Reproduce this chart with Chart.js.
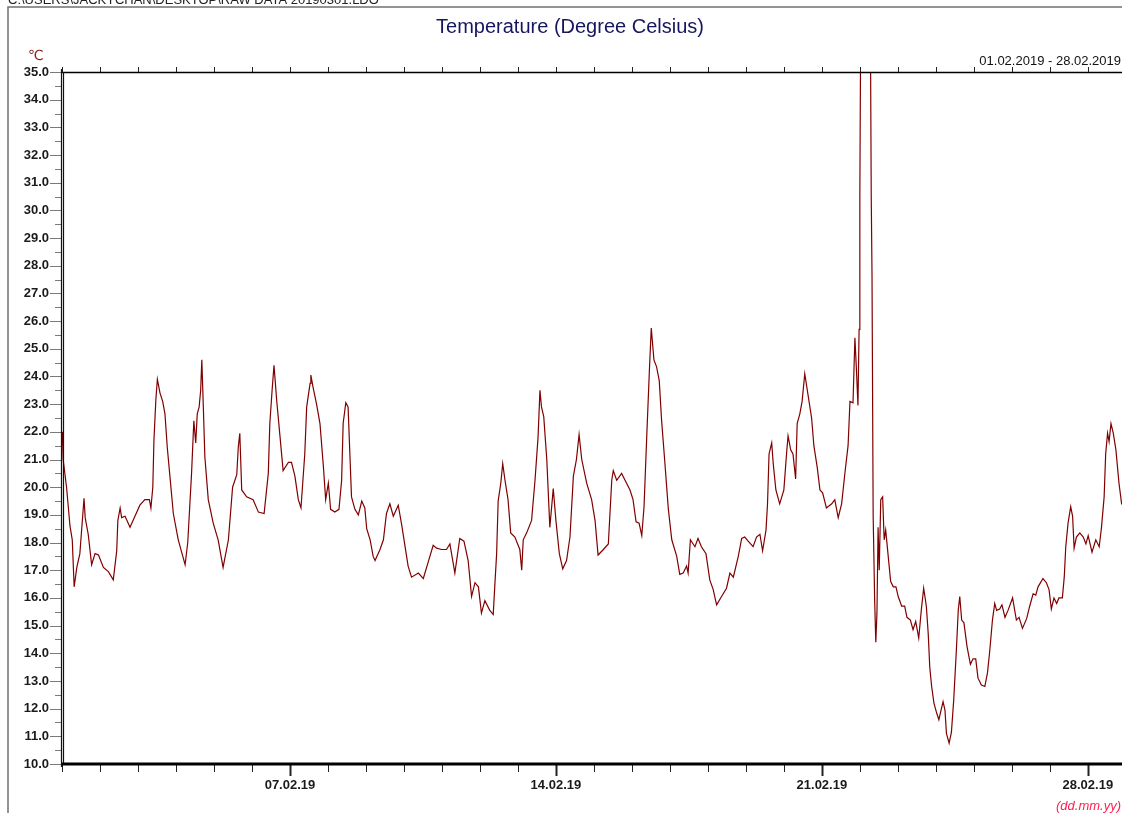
<!DOCTYPE html>
<html>
<head>
<meta charset="utf-8">
<title>Temperature (Degree Celsius)</title>
<script src="https://cdn.jsdelivr.net/npm/chart.js@4.4.1/dist/chart.umd.min.js"></script>
<style>
  html, body { margin: 0; padding: 0; background: #fff; }
  #wrap { position: relative; width: 1122px; height: 813px; overflow: hidden; }
</style>
</head>
<body>
<div id="wrap"><canvas id="tempChart" width="1122" height="813"></canvas></div>
<script>
// days since 01.02.2019 00:00
const days = [
  0.00, 0.02, 0.03, 0.12, 0.21, 0.27, 0.32, 0.39, 0.47, 0.53, 0.58, 0.61, 0.69, 0.78, 0.87, 0.96,
  1.09, 1.22, 1.35, 1.44, 1.47, 1.53, 1.57, 1.66, 1.79, 1.92, 2.05, 2.18, 2.30, 2.34, 2.39, 2.42,
  2.47, 2.51, 2.58, 2.65, 2.71, 2.77, 2.84, 2.93, 3.06, 3.18, 3.24, 3.31, 3.41, 3.47, 3.52, 3.56,
  3.61, 3.65, 3.68, 3.72, 3.76, 3.85, 3.98, 4.11, 4.24, 4.38, 4.49, 4.60, 4.64, 4.68, 4.73, 4.86,
  5.03, 5.17, 5.32, 5.43, 5.47, 5.53, 5.58, 5.65, 5.74, 5.82, 5.96, 6.04, 6.13, 6.22, 6.29, 6.39,
  6.44, 6.53, 6.55, 6.61, 6.70, 6.79, 6.88, 6.94, 7.01, 7.07, 7.18, 7.29, 7.36, 7.40, 7.47, 7.53,
  7.62, 7.71, 7.80, 7.89, 7.97, 8.02, 8.11, 8.19, 8.24, 8.37, 8.46, 8.54, 8.63, 8.72, 8.85, 8.94,
  9.03, 9.11, 9.20, 9.38, 9.51, 9.64, 9.77, 9.86, 9.99, 10.12, 10.21, 10.34, 10.47, 10.58, 10.69, 10.78,
  10.87, 10.96, 11.04, 11.13, 11.26, 11.35, 11.39, 11.44, 11.48, 11.55, 11.60, 11.66, 11.74, 11.81, 11.92, 12.05,
  12.10, 12.14, 12.23, 12.36, 12.45, 12.53, 12.58, 12.62, 12.68, 12.76, 12.84, 12.93, 13.00, 13.09, 13.18, 13.28,
  13.37, 13.46, 13.54, 13.61, 13.68, 13.81, 13.94, 14.03, 14.11, 14.25, 14.38, 14.47, 14.51, 14.60, 14.73, 14.82,
  14.95, 15.03, 15.11, 15.19, 15.26, 15.32, 15.39, 15.46, 15.51, 15.58, 15.65, 15.72, 15.78, 15.87, 15.96, 16.05,
  16.18, 16.26, 16.35, 16.44, 16.48, 16.54, 16.66, 16.74, 16.83, 16.95, 17.05, 17.14, 17.23, 17.36, 17.49, 17.58,
  17.67, 17.80, 17.89, 17.97, 18.06, 18.19, 18.28, 18.37, 18.44, 18.53, 18.57, 18.61, 18.68, 18.72, 18.79, 18.89,
  19.00, 19.07, 19.11, 19.18, 19.24, 19.31, 19.35, 19.42, 19.48, 19.55, 19.64, 19.73, 19.79, 19.88, 19.95, 20.02,
  20.12, 20.26, 20.34, 20.43, 20.52, 20.61, 20.69, 20.74, 20.82, 20.87, 20.91, 20.95, 20.98, 21.00, 21.02, 21.08,
  21.18, 21.28, 21.30, 21.32, 21.35, 21.39, 21.42, 21.45, 21.48, 21.51, 21.55, 21.60, 21.64, 21.68, 21.74, 21.81,
  21.88, 21.95, 22.01, 22.10, 22.18, 22.24, 22.33, 22.40, 22.47, 22.55, 22.62, 22.68, 22.75, 22.80, 22.84, 22.89,
  22.95, 23.02, 23.08, 23.13, 23.19, 23.24, 23.28, 23.35, 23.41, 23.47, 23.54, 23.59, 23.63, 23.68, 23.74, 23.82,
  23.91, 23.98, 24.05, 24.11, 24.20, 24.29, 24.36, 24.42, 24.49, 24.55, 24.60, 24.68, 24.74, 24.82, 24.90, 25.02,
  25.12, 25.19, 25.28, 25.39, 25.47, 25.56, 25.63, 25.69, 25.82, 25.91, 25.98, 26.04, 26.11, 26.18, 26.24, 26.33,
  26.38, 26.42, 26.48, 26.55, 26.60, 26.64, 26.70, 26.79, 26.88, 26.95, 27.01, 27.11, 27.21, 27.30, 27.36, 27.43,
  27.47, 27.52, 27.56, 27.61, 27.67, 27.74, 27.82, 27.89, 28.00
];
const temps = [
  22.0, 21.5, 21.0, 20.0, 18.6, 18.1, 16.4, 17.1, 17.6, 18.7, 19.6, 18.9, 18.3, 17.2, 17.6, 17.55,
  17.1, 16.95, 16.65, 17.7, 18.8, 19.25, 18.9, 18.95, 18.55, 18.95, 19.35, 19.55, 19.55, 19.25, 20.0, 21.7,
  23.15, 23.9, 23.4, 23.1, 22.65, 21.45, 20.4, 19.05, 18.1, 17.5, 17.2, 18.0, 20.5, 22.4, 21.6, 22.65,
  22.9, 23.5, 24.6, 22.9, 21.1, 19.55, 18.7, 18.1, 17.1, 18.1, 20.0, 20.45, 21.45, 21.95, 19.9, 19.65,
  19.55, 19.1, 19.05, 20.5, 22.3, 23.5, 24.4, 23.15, 21.8, 20.6, 20.9, 20.9, 20.4, 19.55, 19.25, 21.2,
  22.9, 23.75, 24.05, 23.6, 23.0, 22.3, 20.75, 19.55, 20.15, 19.2, 19.1, 19.2, 20.25, 22.3, 23.05, 22.9,
  19.65, 19.2, 19.0, 19.5, 19.25, 18.5, 18.1, 17.5, 17.35, 17.75, 18.1, 19.05, 19.4, 18.95, 19.35, 18.65,
  17.85, 17.15, 16.75, 16.9, 16.7, 17.3, 17.9, 17.8, 17.75, 17.75, 17.95, 16.9, 18.15, 18.05, 17.35, 16.05,
  16.55, 16.4, 15.45, 15.9, 15.55, 15.4, 16.4, 17.6, 19.5, 20.15, 20.85, 20.25, 19.55, 18.35, 18.2, 17.75,
  17.0, 18.1, 18.35, 18.8, 20.25, 21.8, 23.5, 22.9, 22.55, 21.0, 18.55, 19.95, 18.8, 17.6, 17.05, 17.35,
  18.2, 20.4, 21.0, 21.9, 21.0, 20.15, 19.55, 18.8, 17.55, 17.75, 17.95, 20.25, 20.6, 20.25, 20.5, 20.25,
  19.9, 19.55, 18.75, 18.7, 18.25, 19.3, 21.8, 24.2, 25.75, 24.6, 24.35, 23.85, 22.45, 20.85, 19.2, 18.1,
  17.5, 16.85, 16.9, 17.15, 16.9, 18.1, 17.85, 18.15, 17.85, 17.6, 16.65, 16.3, 15.75, 16.05, 16.35, 16.9,
  16.75, 17.5, 18.15, 18.2, 18.05, 17.85, 18.2, 18.3, 17.7, 18.45, 19.4, 21.2, 21.6, 20.85, 19.9, 19.4,
  19.9, 21.2, 21.85, 21.35, 21.2, 20.3, 22.3, 22.65, 23.1, 24.1, 23.3, 22.5, 21.5, 20.7, 19.9, 19.8,
  19.25, 19.4, 19.55, 18.9, 19.4, 20.55, 21.5, 23.1, 23.05, 25.4, 24.25, 22.95, 25.7, 30.6, 36.0, 40.0,
  40.0, 36.0, 30.5, 27.7, 19.0, 15.9, 14.4, 15.45, 18.55, 17.0, 19.55, 19.65, 18.1, 18.45, 17.6, 16.6,
  16.4, 16.4, 16.05, 15.7, 15.7, 15.3, 15.2, 14.85, 15.15, 14.55, 15.6, 16.35, 15.7, 14.7, 13.5, 12.8,
  12.2, 11.85, 11.6, 11.9, 12.25, 11.95, 11.1, 10.75, 11.15, 12.3, 14.1, 15.55, 16.05, 15.2, 15.1, 14.25,
  13.6, 13.8, 13.8, 13.1, 12.85, 12.8, 13.3, 14.1, 15.2, 15.8, 15.55, 15.6, 15.75, 15.3, 15.55, 16.0,
  15.2, 15.3, 14.9, 15.25, 15.7, 16.15, 16.1, 16.4, 16.7, 16.55, 16.3, 15.6, 16.0, 15.8, 16.0, 16.0,
  16.75, 17.85, 18.7, 19.3, 18.95, 17.8, 18.2, 18.35, 18.2, 17.95, 18.25, 17.65, 18.1, 17.85, 18.55, 19.65,
  21.2, 21.95, 21.65, 22.3, 21.95, 21.35, 20.15, 19.4, 19.3
];
const labelDays = [6, 13, 20, 27];
const labelTexts = ['07.02.19', '14.02.19', '21.02.19', '28.02.19'];

const filePath = 'C:\\USERS\\JACKYCHAN\\DESKTOP\\RAW DATA 20190301.LDO';
const chartTitle = 'Temperature (Degree Celsius)';
const periodText = '01.02.2019 - 28.02.2019';
const unitText = '\u2103';
const dateFormatText = '(dd.mm.yy)';

const FONT = '"Liberation Sans", Arial, sans-serif';

// frame, ticks and captions drawn around the plot area
const chartDecor = {
  id: 'chartDecor',
  afterDraw(chart) {
    const { ctx, chartArea: a, scales: { x, y } } = chart;
    ctx.save();

    ctx.strokeStyle = '#707070';
    ctx.lineWidth = 1.5;
    ctx.beginPath();
    ctx.moveTo(8, 813);
    ctx.lineTo(8, 7);
    ctx.lineTo(1122, 7);
    ctx.stroke();

    ctx.strokeStyle = '#000';
    ctx.lineWidth = 1.3;
    ctx.beginPath();
    ctx.moveTo(a.left, a.top + 0.5);
    ctx.lineTo(a.right, a.top + 0.5);
    ctx.stroke();

    for (let d = 0; d <= Math.floor(x.max); d++) {
      const px = Math.round(x.getPixelForValue(d)) + 0.5;
      const major = labelDays.includes(d);
      ctx.strokeStyle = '#222';
      ctx.lineWidth = major ? 2 : 1;
      ctx.beginPath();
      ctx.moveTo(px, a.bottom);
      ctx.lineTo(px, a.bottom + (major ? 12 : 8));
      ctx.stroke();
      ctx.lineWidth = 1;
      ctx.beginPath();
      ctx.moveTo(px, a.top);
      ctx.lineTo(px, a.top - 5);
      ctx.stroke();
    }

    ctx.strokeStyle = '#7a7a7a';
    ctx.lineWidth = 1;
    for (let v = y.min; v <= y.max + 0.01; v += 0.5) {
      const py = Math.round(y.getPixelForValue(v)) + 0.5;
      const major = Math.abs(v - Math.round(v)) < 0.01;
      ctx.beginPath();
      ctx.moveTo(a.left, py);
      ctx.lineTo(a.left - (major ? 12 : 7), py);
      ctx.stroke();
    }

    ctx.strokeStyle = '#111';
    ctx.lineWidth = 1.2;
    ctx.beginPath();
    ctx.moveTo(a.left - 0.5, a.top - 3);
    ctx.lineTo(a.left - 0.5, a.bottom + 3);
    ctx.stroke();
    ctx.beginPath();
    ctx.moveTo(a.left + 1.5, a.top);
    ctx.lineTo(a.left + 1.5, a.bottom);
    ctx.stroke();

    ctx.strokeStyle = '#000';
    ctx.lineWidth = 3;
    ctx.beginPath();
    ctx.moveTo(a.left, a.bottom);
    ctx.lineTo(a.right, a.bottom);
    ctx.stroke();

    ctx.textBaseline = 'alphabetic';
    ctx.fillStyle = '#222';
    ctx.font = '13px ' + FONT;
    ctx.textAlign = 'left';
    ctx.fillText(filePath, 8, 4);

    ctx.fillStyle = '#16165e';
    ctx.font = '20px ' + FONT;
    ctx.textAlign = 'center';
    ctx.fillText(chartTitle, 570, 33);

    ctx.fillStyle = '#8b1a1a';
    ctx.font = '14px "DejaVu Sans", ' + FONT;
    ctx.textAlign = 'left';
    ctx.fillText(unitText, 28, 60);

    ctx.fillStyle = '#111';
    ctx.font = '13px ' + FONT;
    ctx.textAlign = 'right';
    ctx.fillText(periodText, 1121, 65);

    ctx.fillStyle = '#ff2050';
    ctx.font = 'italic 13px ' + FONT;
    ctx.fillText(dateFormatText, 1121, 810);

    ctx.restore();
  }
};

const points = days.map((d, i) => ({ x: d, y: temps[i] }));

new Chart(document.getElementById('tempChart'), {
  type: 'line',
  data: {
    datasets: [{
      label: chartTitle,
      data: points,
      borderColor: '#800000',
      borderWidth: 1.2,
      pointRadius: 0,
      tension: 0,
      fill: false
    }]
  },
  options: {
    responsive: false,
    animation: false,
    devicePixelRatio: 1,
    layout: { padding: { top: 72, right: 0, left: 0, bottom: 0 } },
    plugins: {
      legend: { display: false },
      tooltip: { enabled: false }
    },
    scales: {
      x: {
        type: 'linear',
        min: 0,
        max: 27.9,
        afterFit: s => { s.height = 49; s.paddingLeft = 0; s.paddingRight = 0; },
        grid: { display: false, tickLength: 8 },
        border: { display: false },
        ticks: {
          stepSize: 1,
          includeBounds: false,
          autoSkip: false,
          maxRotation: 0,
          padding: 6,
          color: '#1a1a1a',
          font: { family: FONT, size: 13, weight: 'bold' },
          callback: v => {
            const k = labelDays.indexOf(v);
            return k >= 0 ? labelTexts[k] : '';
          }
        }
      },
      y: {
        min: 10,
        max: 35,
        afterFit: s => { s.width = 62; },
        grid: { display: false, tickLength: 12 },
        border: { display: false },
        ticks: {
          stepSize: 1,
          padding: 1,
          color: '#1a1a1a',
          font: { family: FONT, size: 13, weight: 'bold' },
          callback: v => v.toFixed(1)
        }
      }
    }
  },
  plugins: [chartDecor]
});
</script>
</body>
</html>
